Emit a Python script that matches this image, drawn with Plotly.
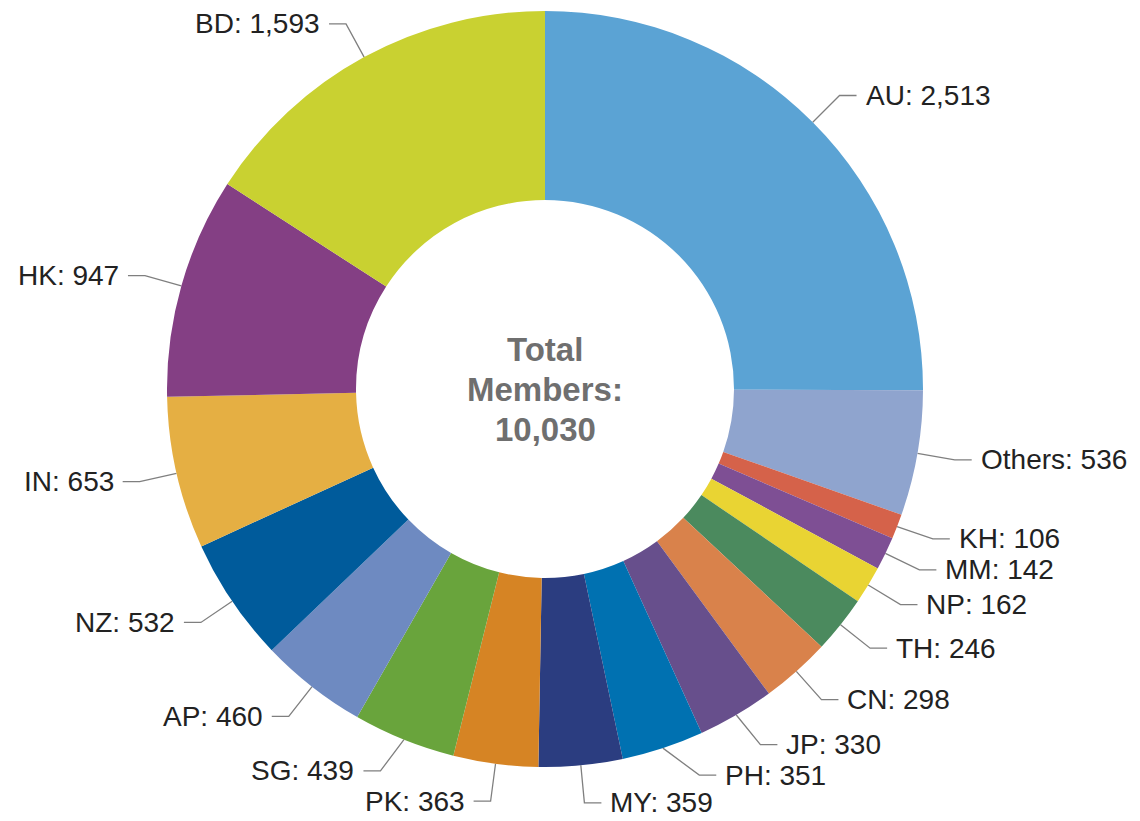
import math
import plotly.graph_objects as go

# slices in clockwise order starting at 12 o'clock
labels = ['AU', 'Others', 'KH', 'MM', 'NP', 'TH', 'CN', 'JP', 'PH', 'MY',
          'PK', 'SG', 'AP', 'NZ', 'IN', 'HK', 'BD']
values = [2513, 536, 106, 142, 162, 246, 298, 330, 351, 359,
          363, 439, 460, 532, 653, 947, 1593]
colors = ['#5BA3D4', '#8FA4CE', '#D5624A', '#7E4F94', '#E9D433', '#4B8A5E',
          '#D9824B', '#674F8C', '#0071B1', '#2B3D80', '#D68424', '#69A43C',
          '#6E8AC1', '#005B9B', '#E5AF43', '#843F84', '#C9D131']
center_lines = ['Total', 'Members:']

W, H = 1140, 821
# the page body has an 8px margin, so the geometry is shifted up/left by 8
cx, cy, r = 537, 381, 378
FS = 28
total = sum(values)

fig = go.Figure()
fig.add_trace(go.Pie(
    labels=labels, values=values, sort=False, direction='clockwise', rotation=0,
    hole=0.5, textinfo='none', hoverinfo='label+value',
    marker=dict(colors=colors, line=dict(width=0)),
    domain=dict(x=[(cx - r) / W, (cx + r) / W],
                y=[(H - cy - r) / H, (H - cy + r) / H]),
    showlegend=False,
))


def label_geom(a_deg, side, text):
    a = math.radians(a_deg)
    x1, y1 = cx + r * 1.1 * math.sin(a), cy - r * 1.1 * math.cos(a)
    w = 0.52 * FS * len(text)
    if side > 0:
        box = (x1 + 24, x1 + 24 + w)
    else:
        box = (x1 - 24 - w, x1 - 24)
    return x1, y1, box


# mid angles (degrees clockwise from 12 o'clock)
mids = []
cum = 0
for v in values:
    mids.append((cum + v / 2) / total * 360)
    cum += v

# place labels from the bottom upwards, nudging them along the circle if they collide
pos = {}
for side, order in ((1, sorted([i for i in range(len(values)) if mids[i] < 180], key=lambda i: -mids[i])),
                    (-1, sorted([i for i in range(len(values)) if mids[i] >= 180], key=lambda i: mids[i]))):
    placed = []
    for i in order:
        a = mids[i]
        text = f'{labels[i]}: {values[i]:,}'
        while True:
            x1, y1, box = label_geom(a, side, text)
            clash = any(abs(y1 - py) < 30 and box[0] < pb[1] + 12 and pb[0] < box[1] + 12
                        for py, pb in placed)
            if not clash:
                break
            a -= 0.2 * side
        placed.append((y1, box))
        pos[i] = (a, x1, y1, text)

lx, ly = [], []
annotations = []
for i in range(len(values)):
    a0 = math.radians(mids[i])
    a, x1, y1, text = pos[i]
    side = 1 if mids[i] < 180 else -1
    x0, y0 = cx + r * math.sin(a0), cy - r * math.cos(a0)
    x2 = x1 + 17 * side
    lx += [x0, x1, x2, None]
    ly += [y0, y1, y1, None]
    annotations.append(dict(
        x=x2 + 7 * side, y=y1, xref='x', yref='y', showarrow=False,
        text=text, xanchor='left' if side > 0 else 'right', yanchor='middle',
        font=dict(family='Liberation Sans, Arial', size=FS, color='#222222'),
    ))

fig.add_trace(go.Scatter(x=lx, y=ly, mode='lines', line=dict(color='#7f7f7f', width=1.3),
                         hoverinfo='skip', showlegend=False))

for i, t in enumerate(center_lines + [f'{total:,}']):
    annotations.append(dict(
        x=cx, y=cy - 40 + 40 * i, xref='x', yref='y', showarrow=False,
        text=f'<b>{t}</b>',
        font=dict(family='Liberation Sans, Arial', size=33, color='#6f6f6f'),
    ))

fig.update_layout(
    width=W, height=H, margin=dict(l=0, r=0, t=0, b=0),
    paper_bgcolor='white', plot_bgcolor='rgba(0,0,0,0)',
    xaxis=dict(range=[0, W], visible=False, fixedrange=True),
    yaxis=dict(range=[H, 0], visible=False, fixedrange=True),
    annotations=annotations,
)
fig.write_html('out.html')
